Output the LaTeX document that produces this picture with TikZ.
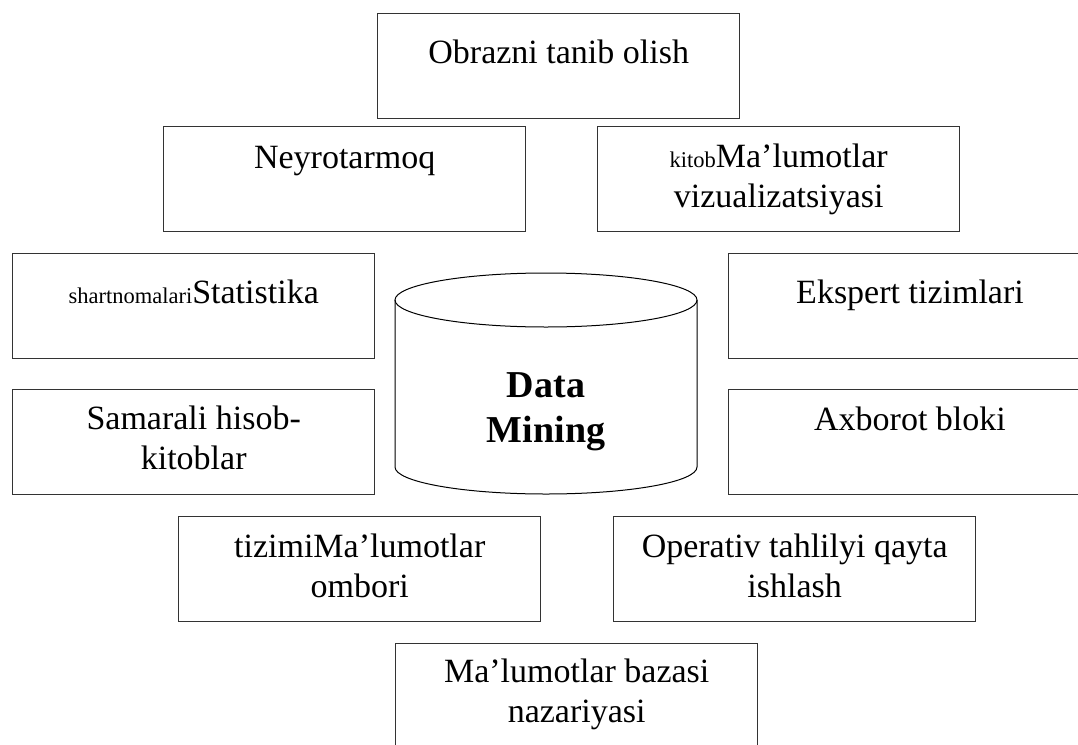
\documentclass[tikz,border=0pt]{standalone}
\usepackage{fontspec}
\setmainfont{Liberation Serif}
\begin{document}
\begin{tikzpicture}[x=1pt,y=-1pt,
  box/.style={draw=black!80,line width=1.4pt,minimum width=362pt,minimum height=105pt,anchor=north west,inner sep=0pt},
  txt/.style={font=\fontsize{34}{40}\selectfont,align=center,anchor=base,inner sep=0pt},
  cyl/.style={draw=black,line width=1pt}]
\useasboundingbox (0,0) rectangle (1078,744);
\fill[white] (0,0) rectangle (1078,744);
% boxes
\node[box] (ob) at (377,13) {};
\node[box] (ne) at (163,126) {};
\node[box] (vi) at (597,126) {};
\node[box] (st) at (12,253) {};
\node[box] (ek) at (728,253) {};
\node[box] (sa) at (12,389) {};
\node[box] (ax) at (728,389) {};
\node[box] (om) at (178,516) {};
\node[box] (op) at (613,516) {};
\node[box] (ba) at (395,643) {};
% texts (anchor = baseline of the last line)
\node[txt] (tob) at ([yshift=-50pt]ob.north) {Obrazni tanib olish};
\node[txt] (tne) at ([yshift=-42pt]ne.north) {Neyrotarmoq};
\node[txt] (tvi) at ([yshift=-81pt]vi.north) {{\fontsize{22.5}{26}\selectfont kitob}Ma’lumotlar\\vizualizatsiyasi};
\node[txt] (tst) at ([yshift=-50pt]st.north) {{\fontsize{22.5}{26}\selectfont shartnomalari}Statistika};
\node[txt] (tek) at ([yshift=-50pt]ek.north-|910,0) {Ekspert tizimlari};
\node[txt] (tsa) at ([yshift=-80pt]sa.north) {Samarali hisob-\\kitoblar};
\node[txt] (tax) at ([yshift=-41pt]ax.north-|910,0) {Axborot bloki};
\node[txt] (tom) at ([yshift=-81pt]om.north) {tizimiMa’lumotlar\\ombori};
\node[txt] (top) at ([yshift=-81pt]op.north) {Operativ tahlilyi qayta\\ishlash};
\node[txt] (tba) at ([yshift=-79pt]ba.north) {Ma’lumotlar bazasi\\nazariyasi};
% cylinder
\coordinate (ct) at (546,300);
\draw[cyl,fill=white] (395,300) -- (395,467) arc[start angle=180,end angle=360,x radius=151,y radius=-27] -- (697,300);
\draw[cyl] (ct) ellipse[x radius=151,y radius=27];
\node[font=\fontsize{38}{45}\selectfont\bfseries,align=center,anchor=base,inner sep=0pt] (dm) at (546,442) {Data\\Mining};
\end{tikzpicture}
\end{document}
